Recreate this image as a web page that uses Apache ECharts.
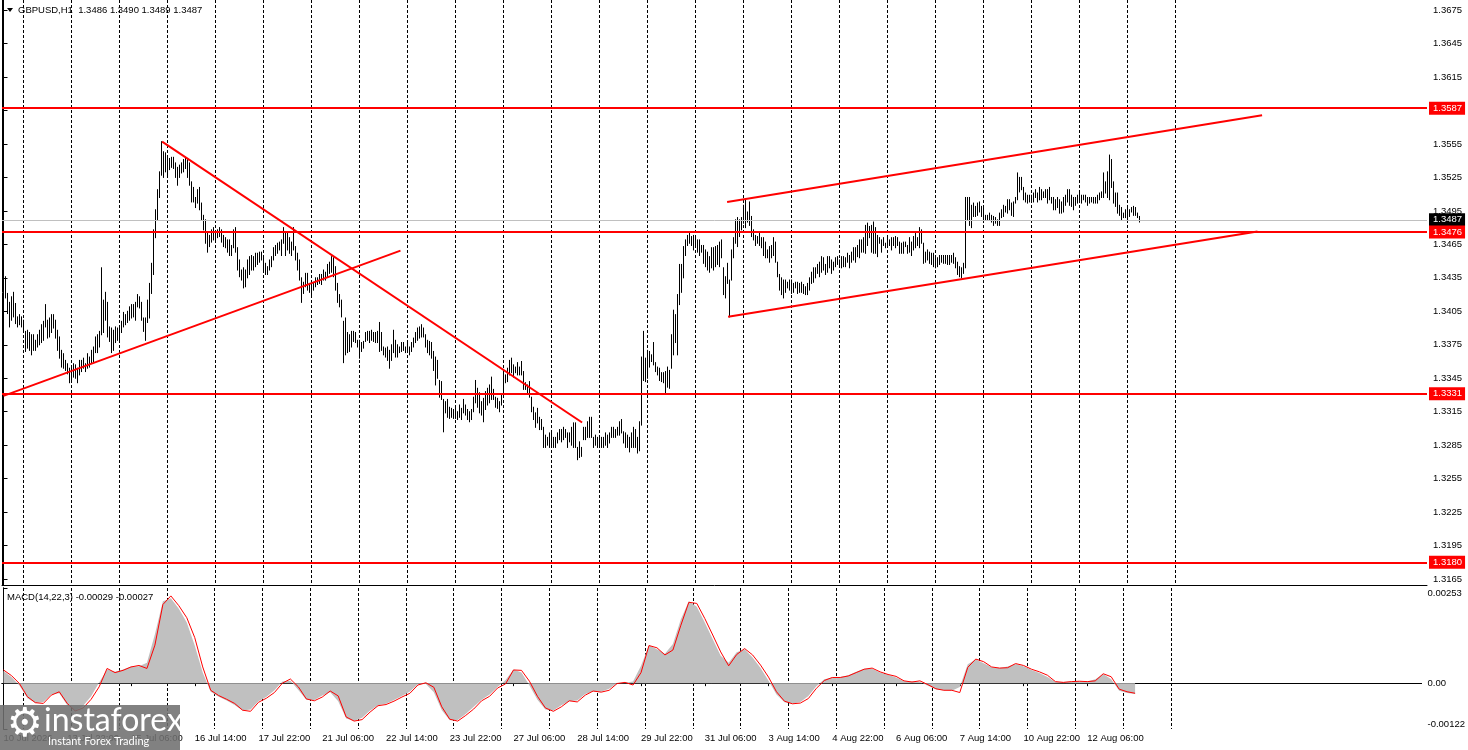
<!DOCTYPE html>
<html><head><meta charset="utf-8">
<script src="https://cdn.jsdelivr.net/npm/echarts@6/dist/echarts.min.js"></script>
<style>html,body{margin:0;padding:0;background:#fff;}#c{width:1468px;height:750px;}</style>
</head><body><div id="c"></div>
<script>
// ---------- DATA (hourly GBPUSD bars) ----------
const highs = [
1.3438,1.3436,1.3421,1.3413,1.3418,1.3422,1.3412,1.3400,1.3402,1.3400,
1.3397,1.3387,1.3388,1.3386,1.3384,1.3384,1.3379,1.3384,1.3388,1.3393,
1.3396,1.3411,1.3397,1.3399,1.3402,1.3402,1.3397,1.3388,1.3382,1.3370,
1.3367,1.3361,1.3358,1.3354,1.3354,1.3358,1.3357,1.3354,1.3361,1.3361,
1.3363,1.3358,1.3367,1.3364,1.3370,1.3373,1.3382,1.3384,1.3387,1.3444,
1.3415,1.3422,1.3413,1.3391,1.3390,1.3388,1.3391,1.3390,1.3391,1.3396,
1.3404,1.3402,1.3405,1.3409,1.3411,1.3411,1.3413,1.3420,1.3418,1.3413,
1.3399,1.3399,1.3415,1.3430,1.3448,1.3478,1.3496,1.3514,1.3530,1.3557,
1.3548,1.3547,1.3542,1.3542,1.3543,1.3543,1.3538,1.3534,1.3536,1.3538,
1.3541,1.3542,1.3542,1.3538,1.3521,1.3516,1.3507,1.3514,1.3516,1.3502,
1.3491,1.3487,1.3476,1.3473,1.3478,1.3480,1.3476,1.3478,1.3480,1.3478,
1.3473,1.3471,1.3469,1.3469,1.3464,1.3478,1.3480,1.3462,1.3451,1.3442,
1.3444,1.3442,1.3451,1.3454,1.3455,1.3454,1.3457,1.3457,1.3458,1.3458,
1.3454,1.3448,1.3445,1.3451,1.3454,1.3462,1.3464,1.3466,1.3467,1.3469,
1.3480,1.3475,1.3475,1.3471,1.3467,1.3480,1.3463,1.3457,1.3451,
1.3435,1.3431,1.3439,1.3439,1.3430,1.3429,1.3431,1.3435,1.3435,1.3438,
1.3438,1.3442,1.3440,1.3447,1.3449,1.3454,1.3453,1.3445,1.3430,1.3420,
1.3415,1.3396,1.3399,1.3386,1.3384,1.3387,1.3387,1.3386,1.3379,1.3379,
1.3377,1.3378,1.3386,1.3387,1.3387,1.3388,1.3386,1.3386,1.3387,1.3395,
1.3386,1.3373,1.3372,1.3373,1.3370,1.3375,1.3388,1.3379,1.3375,1.3373,
1.3377,1.3377,1.3373,1.3377,1.3373,1.3377,1.3381,1.3386,1.3390,1.3391,
1.3393,1.3390,1.3384,1.3379,1.3378,1.3377,1.3369,1.3364,1.3361,1.3343,
1.3342,1.3326,1.3324,1.3326,1.3319,1.3318,1.3317,1.3318,1.3315,1.3321,
1.3318,1.3326,1.3321,1.3317,1.3315,1.3317,1.3328,1.3343,1.3336,1.3332,
1.3324,1.3327,1.3333,1.3336,1.3339,1.3346,1.3335,1.3328,1.3327,1.3324,
1.3330,1.3351,1.3348,1.3354,1.3361,1.3363,1.3357,1.3355,1.3359,1.3355,
1.3360,1.3351,1.3341,1.3339,1.3342,1.3328,1.3319,1.3314,1.3318,1.3310,
1.3308,1.3301,1.3294,1.3292,1.3296,1.3296,1.3292,1.3292,1.3296,1.3299,
1.3299,1.3301,1.3299,1.3296,1.3296,1.3301,1.3305,1.3305,1.3283,1.3288,
1.3283,1.3301,1.3301,1.3306,1.3310,1.3310,1.3292,1.3294,1.3292,1.3292,
1.3292,1.3292,1.3296,1.3294,1.3296,1.3301,1.3301,1.3299,1.3301,1.3306,
1.3308,1.3297,1.3296,1.3294,1.3292,1.3296,1.3301,1.3299,1.3292,1.3306,
1.3364,1.3387,1.3363,1.3370,1.3369,1.3366,1.3377,1.3359,1.3355,1.3354,
1.3350,1.3350,1.3351,1.3355,1.3352,1.3384,1.3406,1.3402,1.3420,1.3447,
1.3447,1.3463,1.3469,1.3473,1.3475,1.3472,1.3473,1.3472,1.3469,1.3469,
1.3464,1.3464,1.3460,1.3458,1.3454,1.3462,1.3462,1.3463,1.3464,1.3467,
1.3469,1.3444,1.3436,1.3448,1.3433,1.3460,1.3471,1.3487,1.3489,1.3487,
1.3489,1.3500,1.3505,1.3494,1.3503,1.3490,1.3478,1.3473,1.3472,1.3476,
1.3471,1.3471,1.3467,1.3460,1.3463,1.3464,1.3471,1.3467,1.3449,1.3438,
1.3435,1.3433,1.3433,1.3431,1.3433,1.3433,1.3430,1.3431,1.3431,1.3430,
1.3431,1.3429,1.3427,1.3430,1.3435,1.3440,1.3444,1.3444,1.3447,1.3449,
1.3454,1.3453,1.3447,1.3454,1.3454,1.3451,1.3449,1.3453,1.3454,1.3451,
1.3454,1.3454,1.3453,1.3457,1.3455,1.3458,1.3462,1.3462,1.3464,1.3469,
1.3469,1.3471,1.3482,1.3484,1.3481,1.3482,1.3485,1.3480,1.3473,1.3471,
1.3469,1.3471,1.3466,1.3471,1.3469,1.3471,1.3471,1.3472,1.3471,1.3467,
1.3466,1.3467,1.3467,1.3464,1.3471,1.3467,1.3472,1.3475,1.3471,1.3480,
1.3478,1.3466,1.3458,1.3460,1.3458,1.3457,1.3457,1.3454,1.3453,1.3455,
1.3455,1.3455,1.3455,1.3455,1.3455,1.3455,1.3457,1.3453,1.3449,1.3445,
1.3444,1.3448,1.3507,1.3507,1.3507,1.3500,1.3502,1.3499,1.3502,1.3503,
1.3499,1.3498,1.3491,1.3491,1.3493,1.3491,1.3490,1.3489,1.3487,1.3493,
1.3496,1.3500,1.3499,1.3505,1.3505,1.3502,1.3503,1.3507,1.3529,1.3525,
1.3525,1.3516,1.3511,1.3509,1.3509,1.3509,1.3511,1.3514,1.3511,1.3516,
1.3514,1.3512,1.3514,1.3514,1.3516,1.3507,1.3507,1.3505,1.3507,1.3505,
1.3503,1.3507,1.3509,1.3514,1.3514,1.3509,1.3507,1.3507,1.3509,1.3511,
1.3509,1.3509,1.3509,1.3507,1.3507,1.3507,1.3507,1.3507,1.3509,1.3511,
1.3512,1.3529,1.3521,1.3530,1.3545,1.3541,1.3521,1.3511,1.3511,1.3500,
1.3498,1.3493,1.3496,1.3498,1.3496,1.3498,1.3499,1.3498,1.3493,1.3490
];
const lows = [
1.3415,1.3417,1.3403,1.3391,1.3397,1.3400,1.3394,1.3391,1.3393,1.3391,
1.3388,1.3369,1.3372,1.3370,1.3366,1.3370,1.3370,1.3373,1.3375,1.3377,
1.3379,1.3391,1.3381,1.3382,1.3386,1.3390,1.3381,1.3370,1.3363,1.3355,
1.3354,1.3352,1.3349,1.3341,1.3342,1.3346,1.3345,1.3341,1.3348,1.3351,
1.3354,1.3351,1.3354,1.3355,1.3359,1.3360,1.3368,1.3368,1.3373,1.3384,
1.3386,1.3397,1.3382,1.3378,1.3368,1.3370,1.3377,1.3379,1.3379,1.3386,
1.3391,1.3393,1.3395,1.3397,1.3399,1.3400,1.3397,1.3409,1.3408,1.3397,
1.3387,1.3379,1.3395,1.3399,1.3421,1.3438,1.3471,1.3487,1.3507,1.3527,
1.3525,1.3530,1.3527,1.3532,1.3534,1.3533,1.3525,1.3518,1.3525,1.3529,
1.3530,1.3533,1.3525,1.3518,1.3503,1.3503,1.3498,1.3502,1.3496,1.3487,
1.3478,1.3466,1.3458,1.3463,1.3467,1.3469,1.3469,1.3471,1.3472,1.3467,
1.3463,1.3462,1.3458,1.3455,1.3455,1.3462,1.3458,1.3442,1.3436,1.3433,
1.3426,1.3427,1.3435,1.3438,1.3442,1.3442,1.3445,1.3447,1.3449,1.3451,
1.3442,1.3438,1.3438,1.3442,1.3445,1.3451,1.3455,1.3457,1.3460,1.3455,
1.3466,1.3455,1.3460,1.3457,1.3455,1.3460,1.3451,1.3442,1.3433,
1.3413,1.3421,1.3427,1.3424,1.3422,1.3420,1.3424,1.3427,1.3429,1.3430,
1.3429,1.3433,1.3433,1.3436,1.3439,1.3440,1.3436,1.3424,1.3413,1.3409,
1.3400,1.3359,1.3366,1.3368,1.3369,1.3373,1.3378,1.3377,1.3373,1.3363,
1.3369,1.3372,1.3378,1.3379,1.3377,1.3379,1.3378,1.3377,1.3377,1.3369,
1.3370,1.3366,1.3364,1.3361,1.3354,1.3361,1.3368,1.3364,1.3364,1.3368,
1.3369,1.3370,1.3368,1.3369,1.3366,1.3369,1.3373,1.3377,1.3379,1.3381,
1.3382,1.3382,1.3373,1.3368,1.3366,1.3363,1.3352,1.3339,1.3345,1.3328,
1.3326,1.3297,1.3314,1.3310,1.3309,1.3310,1.3309,1.3309,1.3308,1.3310,
1.3308,1.3314,1.3312,1.3308,1.3306,1.3308,1.3315,1.3323,1.3319,1.3314,
1.3312,1.3306,1.3317,1.3321,1.3323,1.3326,1.3326,1.3319,1.3318,1.3315,
1.3321,1.3332,1.3341,1.3342,1.3348,1.3350,1.3346,1.3350,1.3348,1.3348,
1.3348,1.3335,1.3335,1.3332,1.3328,1.3315,1.3308,1.3301,1.3305,1.3299,
1.3299,1.3283,1.3283,1.3285,1.3283,1.3285,1.3283,1.3283,1.3287,1.3290,
1.3288,1.3290,1.3292,1.3283,1.3288,1.3285,1.3283,1.3283,1.3272,1.3274,
1.3275,1.3290,1.3290,1.3292,1.3292,1.3292,1.3283,1.3285,1.3283,1.3283,
1.3283,1.3283,1.3285,1.3283,1.3287,1.3292,1.3292,1.3292,1.3294,1.3294,
1.3296,1.3287,1.3283,1.3283,1.3279,1.3283,1.3283,1.3283,1.3278,1.3280,
1.3303,1.3343,1.3342,1.3345,1.3355,1.3360,1.3357,1.3351,1.3348,1.3343,
1.3342,1.3341,1.3332,1.3337,1.3336,1.3354,1.3366,1.3377,1.3366,1.3411,
1.3422,1.3435,1.3455,1.3464,1.3466,1.3464,1.3460,1.3464,1.3458,1.3455,
1.3458,1.3448,1.3445,1.3442,1.3440,1.3444,1.3442,1.3445,1.3447,1.3445,
1.3453,1.3420,1.3417,1.3430,1.3400,1.3433,1.3453,1.3466,1.3463,1.3472,
1.3478,1.3484,1.3480,1.3485,1.3482,1.3472,1.3469,1.3464,1.3466,1.3464,
1.3462,1.3455,1.3453,1.3453,1.3449,1.3453,1.3455,1.3449,1.3436,1.3424,
1.3420,1.3417,1.3422,1.3426,1.3424,1.3421,1.3422,1.3426,1.3421,1.3422,
1.3422,1.3421,1.3420,1.3420,1.3424,1.3430,1.3431,1.3435,1.3439,1.3436,
1.3440,1.3442,1.3438,1.3440,1.3444,1.3439,1.3442,1.3445,1.3447,1.3445,
1.3444,1.3445,1.3445,1.3449,1.3444,1.3449,1.3451,1.3449,1.3454,1.3453,
1.3458,1.3458,1.3457,1.3464,1.3471,1.3458,1.3457,1.3457,1.3454,1.3466,
1.3458,1.3464,1.3462,1.3463,1.3464,1.3460,1.3464,1.3462,1.3464,1.3457,
1.3457,1.3457,1.3463,1.3457,1.3458,1.3455,1.3460,1.3462,1.3464,1.3462,
1.3466,1.3448,1.3449,1.3451,1.3448,1.3447,1.3445,1.3444,1.3445,1.3447,
1.3449,1.3448,1.3448,1.3447,1.3447,1.3449,1.3448,1.3444,1.3438,1.3436,
1.3435,1.3439,1.3444,1.3487,1.3482,1.3480,1.3490,1.3490,1.3491,1.3494,
1.3490,1.3485,1.3487,1.3487,1.3487,1.3485,1.3482,1.3484,1.3482,1.3482,
1.3489,1.3490,1.3494,1.3493,1.3496,1.3491,1.3490,1.3502,1.3505,1.3512,
1.3514,1.3505,1.3503,1.3502,1.3503,1.3505,1.3503,1.3507,1.3503,1.3505,
1.3505,1.3507,1.3507,1.3502,1.3505,1.3502,1.3496,1.3496,1.3498,1.3493,
1.3493,1.3494,1.3500,1.3503,1.3500,1.3499,1.3496,1.3500,1.3502,1.3505,
1.3502,1.3505,1.3503,1.3500,1.3502,1.3503,1.3502,1.3502,1.3502,1.3505,
1.3507,1.3507,1.3511,1.3507,1.3505,1.3516,1.3502,1.3499,1.3493,1.3491,
1.3487,1.3489,1.3489,1.3487,1.3490,1.3494,1.3491,1.3491,1.3489,1.3485
];
// MACD(14,22,3): main (histogram) and signal, sampled every 4 bars
const macdStep = 4;
const macdMain = [
0.00032,0.00016,-0.00006,-0.00040,-0.00053,-0.00050,-0.00030,-0.00027,-0.00059,-0.00073,
-0.00060,-0.00035,0.00002,0.00036,0.00030,0.00036,0.00044,0.00045,0.00054,0.00130,
0.00218,0.00226,0.00198,0.00161,0.00100,0.00028,-0.00023,-0.00036,-0.00046,-0.00058,
-0.00073,-0.00070,-0.00048,-0.00036,-0.00019,0.00004,0.00006,-0.00018,-0.00044,-0.00045,
-0.00033,-0.00024,-0.00048,-0.00094,-0.00101,-0.00092,-0.00073,-0.00059,-0.00055,-0.00045,
-0.00034,-0.00022,-0.00003,-0.00002,-0.00024,-0.00072,-0.00099,-0.00098,-0.00082,-0.00063,
-0.00044,-0.00030,-0.00010,0.00008,0.00036,0.00028,-0.00006,-0.00044,-0.00070,-0.00073,
-0.00059,-0.00048,-0.00046,-0.00029,-0.00022,-0.00023,-0.00015,0.00000,0.00001,0.00004,
0.00046,0.00101,0.00090,0.00078,0.00104,0.00170,0.00218,0.00203,0.00161,0.00117,
0.00073,0.00054,0.00082,0.00090,0.00068,0.00040,0.00006,-0.00030,-0.00051,-0.00055,
-0.00050,-0.00034,-0.00008,0.00010,0.00015,0.00016,0.00021,0.00030,0.00038,0.00038,
0.00028,0.00022,0.00015,0.00005,0.00004,0.00003,-0.00007,-0.00016,-0.00019,-0.00020,
-0.00010,0.00050,0.00063,0.00053,0.00042,0.00040,0.00044,0.00051,0.00045,0.00035,
0.00027,0.00016,0.00003,0.00003,0.00004,0.00005,0.00004,0.00010,0.00024,0.00010,
-0.00020,-0.00026,-0.00029
];
const macdSignal = [
0.00035,0.00020,-0.00001,-0.00036,-0.00052,-0.00054,-0.00032,-0.00023,-0.00054,-0.00074,
-0.00066,-0.00043,-0.00010,0.00039,0.00028,0.00034,0.00043,0.00047,0.00039,0.00101,
0.00209,0.00232,0.00206,0.00174,0.00121,0.00043,-0.00019,-0.00033,-0.00043,-0.00054,
-0.00072,-0.00075,-0.00051,-0.00040,-0.00025,0.00000,0.00011,-0.00010,-0.00042,-0.00047,
-0.00037,-0.00021,-0.00034,-0.00090,-0.00101,-0.00097,-0.00077,-0.00060,-0.00057,-0.00048,
-0.00037,-0.00027,-0.00005,0.00001,-0.00011,-0.00063,-0.00096,-0.00101,-0.00086,-0.00069,
-0.00047,-0.00035,-0.00013,-0.00002,0.00035,0.00034,0.00005,-0.00035,-0.00066,-0.00075,
-0.00063,-0.00047,-0.00050,-0.00032,-0.00021,-0.00024,-0.00019,-0.00001,0.00002,-0.00005,
0.00028,0.00100,0.00094,0.00075,0.00088,0.00154,0.00215,0.00212,0.00172,0.00128,
0.00083,0.00046,0.00076,0.00092,0.00075,0.00048,0.00016,-0.00023,-0.00048,-0.00055,
-0.00053,-0.00041,-0.00014,0.00007,0.00015,0.00015,0.00019,0.00028,0.00037,0.00040,
0.00030,0.00023,0.00018,0.00006,0.00003,0.00006,-0.00004,-0.00015,-0.00019,-0.00019,
-0.00025,0.00042,0.00064,0.00057,0.00043,0.00040,0.00041,0.00052,0.00047,0.00037,
0.00030,0.00021,0.00004,0.00002,0.00004,0.00005,0.00004,0.00006,0.00025,0.00017,
-0.00016,-0.00023,-0.00027
];
const priceTicks = [1.3165,1.3195,1.3225,1.3255,1.3285,1.3315,1.3345,1.3375,1.3405,1.3435,1.3465,1.3495,1.3525,1.3555,1.3585,1.3615,1.3645,1.3675];
const macdTicks = [-0.00122, 0, 0.00253];
const timeLabels = ["10 Jul 2026","13 Jul 22:00","15 Jul 06:00","16 Jul 14:00","17 Jul 22:00","21 Jul 06:00","22 Jul 14:00","23 Jul 22:00","27 Jul 06:00","28 Jul 14:00","29 Jul 22:00","31 Jul 06:00","3 Aug 14:00","4 Aug 22:00","6 Aug 06:00","7 Aug 14:00","10 Aug 22:00","12 Aug 06:00"];
const barsPerLabel = 32;
const levelLines = [1.3587, 1.3476, 1.3331, 1.3180];
const lastPrice = 1.3487;
const trendLines = [
  [[0, 1.33292], [198.5, 1.34594]],
  [[79.3, 1.35570], [289.3, 1.33053]],
  [[361.8, 1.35030], [629.3, 1.35807]],
  [[362.3, 1.34002], [627.0, 1.34766]]
];
const titleText = 'GBPUSD,H1  1.3486 1.3490 1.3489 1.3487';
const macdTitle = 'MACD(14,22,3) -0.00029 -0.00027';

// ---------- CHART ----------
const FONT = 'Liberation Sans';
const FS = 9.5;
const X_MIN = -0.75, X_MAX = 711.75;
const P_MIN = 1.31597, P_MAX = 1.3684;
const M_MIN = -0.00122, M_MAX = 0.00253;
const dayLines = [];
for (let d = 10; d <= 586; d += 24) dayLines.push(d);
const labelPos = timeLabels.map((t, k) => k * barsPerLabel);
const labelMap = {};
labelPos.forEach((p, k) => { labelMap[p] = timeLabels[k]; });

const barData = highs.map((h, i) => [i, lows[i], h]);
const mainData = macdMain.map((v, k) => [k * macdStep, v]);
const sigData = macdSignal.map((v, k) => [k * macdStep, v]);

const blackLine = { show: true, lineStyle: { color: '#000', width: 1 } };
const dashSplit = { show: true, lineStyle: { color: '#000', width: 1, type: [3, 2] } };

function levelItem(v, lineColor, lineWidth, boxColor) {
  return [
    { coord: [X_MIN, v], lineStyle: { color: lineColor, width: lineWidth, type: 'solid' },
      label: { show: true, position: 'end', distance: 2, formatter: () => v.toFixed(4),
        color: '#fff', backgroundColor: boxColor, padding: [2, 3, 1, 4], fontFamily: FONT, fontSize: FS } },
    { coord: [X_MAX, v] }
  ];
}
const levelMarks = [levelItem(lastPrice, '#c0c0c0', 1, '#000')];
levelLines.forEach(v => levelMarks.push(levelItem(v, '#ff0000', 2, '#ff0000')));
const trendMarks = trendLines.map(t => [
  { coord: t[0], lineStyle: { color: '#ff0000', width: 2, type: 'solid' }, label: { show: false } },
  { coord: t[1] }
]);

const chart = echarts.init(document.getElementById('c'), null, { renderer: 'canvas' });
chart.setOption({
  animation: false,
  backgroundColor: '#fff',
  textStyle: { fontFamily: FONT },
  grid: [
    { left: 2, top: 0, width: 1425, height: 585 },
    { left: 2, top: 588, width: 1425, height: 141 }
  ],
  xAxis: [
    { gridIndex: 0, type: 'value', min: X_MIN, max: X_MAX, position: 'bottom',
      axisLine: blackLine, axisTick: { show: false, customValues: dayLines },
      axisLabel: { show: false }, splitLine: dashSplit },
    { gridIndex: 1, type: 'value', min: X_MIN, max: X_MAX, position: 'top',
      axisLine: blackLine, axisTick: { show: false, customValues: dayLines },
      axisLabel: { show: false }, splitLine: dashSplit },
    { gridIndex: 1, type: 'value', min: X_MIN, max: X_MAX, position: 'bottom',
      axisLine: blackLine,
      axisTick: { show: true, customValues: labelPos, length: 3, lineStyle: { color: '#000' } },
      axisLabel: { show: true, customValues: labelPos, formatter: v => labelMap[Math.round(v)] || '',
        align: 'left', margin: 4, color: '#000', fontFamily: FONT, fontSize: FS },
      splitLine: { show: false } }
  ],
  yAxis: [
    { gridIndex: 0, type: 'value', position: 'right', min: P_MIN, max: P_MAX,
      axisLine: blackLine,
      axisTick: { show: true, customValues: priceTicks, length: 4, lineStyle: { color: '#000' } },
      axisLabel: { show: true, customValues: priceTicks, formatter: v => v.toFixed(4),
        margin: 6, color: '#000', fontFamily: FONT, fontSize: FS },
      splitLine: { show: false } },
    { gridIndex: 1, type: 'value', position: 'right', min: M_MIN, max: M_MAX,
      axisLine: blackLine,
      axisTick: { show: true, customValues: macdTicks, length: 4, lineStyle: { color: '#000' } },
      axisLabel: { show: true, customValues: macdTicks, formatter: v => (v === 0 ? '0.00' : v.toFixed(5)),
        margin: 6, color: '#000', fontFamily: FONT, fontSize: FS,
        verticalAlignMinLabel: 'bottom', verticalAlignMaxLabel: 'top' },
      splitLine: { show: false } },
    { gridIndex: 0, type: 'value', position: 'left', min: P_MIN, max: P_MAX,
      axisLine: blackLine, axisTick: { show: false }, axisLabel: { show: false }, splitLine: { show: false } },
    { gridIndex: 1, type: 'value', position: 'left', min: M_MIN, max: M_MAX,
      axisLine: blackLine, axisTick: { show: false }, axisLabel: { show: false }, splitLine: { show: false } }
  ],
  series: [
    {
      name: 'GBPUSD', type: 'custom', xAxisIndex: 0, yAxisIndex: 0, z: 3,
      data: barData, encode: { x: 0, y: [1, 2] }, clip: true,
      renderItem: function (params, api) {
        const i = api.value(0);
        const pLow = api.coord([i, api.value(1)]);
        const pHigh = api.coord([i, api.value(2)]);
        const x = Math.floor(pLow[0]) + 0.5;
        return { type: 'line', shape: { x1: x, y1: pLow[1] + 0.5, x2: x, y2: pHigh[1] - 0.5 },
          style: { stroke: '#000', lineWidth: 1 } };
      },
      markLine: { silent: true, symbol: ['none', 'none'], animation: false, z: 5,
        data: levelMarks.concat(trendMarks) }
    },
    {
      name: 'MACD', type: 'line', xAxisIndex: 2, yAxisIndex: 1, z: 2,
      data: mainData, showSymbol: false, symbol: 'none',
      lineStyle: { width: 0, color: '#c0c0c0' }, itemStyle: { color: '#c0c0c0' },
      areaStyle: { color: '#c0c0c0', opacity: 1 }
    },
    {
      name: 'Signal', type: 'line', xAxisIndex: 2, yAxisIndex: 1, z: 3,
      data: sigData, showSymbol: false, symbol: 'none',
      lineStyle: { width: 1, color: '#ff0000' }, itemStyle: { color: '#ff0000' }
    }
  ],
  graphic: [
    { type: 'polygon', shape: { points: [[7, 8], [13, 8], [10, 12]] }, style: { fill: '#000' }, z: 10 },
    { type: 'text', x: 18, y: 10, z: 10,
      style: { text: titleText, fill: '#000', font: FS + 'px "' + FONT + '"', verticalAlign: 'middle' } },
    { type: 'text', x: 7, y: 597, z: 10,
      style: { text: macdTitle, fill: '#000', font: FS + 'px "' + FONT + '"', verticalAlign: 'middle' } },
    { type: 'group', z: 20, children: [
      { type: 'rect', shape: { x: 0, y: 705, width: 180, height: 45 }, style: { fill: 'rgba(112,112,112,0.88)' }, z: 20 },
      { type: 'text', x: 25, y: 726, z: 21,
        style: { text: '\u2699', fill: '#fff', font: '40px "DejaVu Sans"', align: 'center', verticalAlign: 'middle' } },
      { type: 'text', x: 44, y: 721, z: 21,
        style: { text: 'instaforex', fill: '#fff', font: '32px "Lato"', verticalAlign: 'middle' } },
      { type: 'text', x: 48, y: 741, z: 21,
        style: { text: 'Instant Forex Trading', fill: '#fff', font: '11px "Lato"', verticalAlign: 'middle' } }
    ] }
  ]
});
</script>
</body></html>
